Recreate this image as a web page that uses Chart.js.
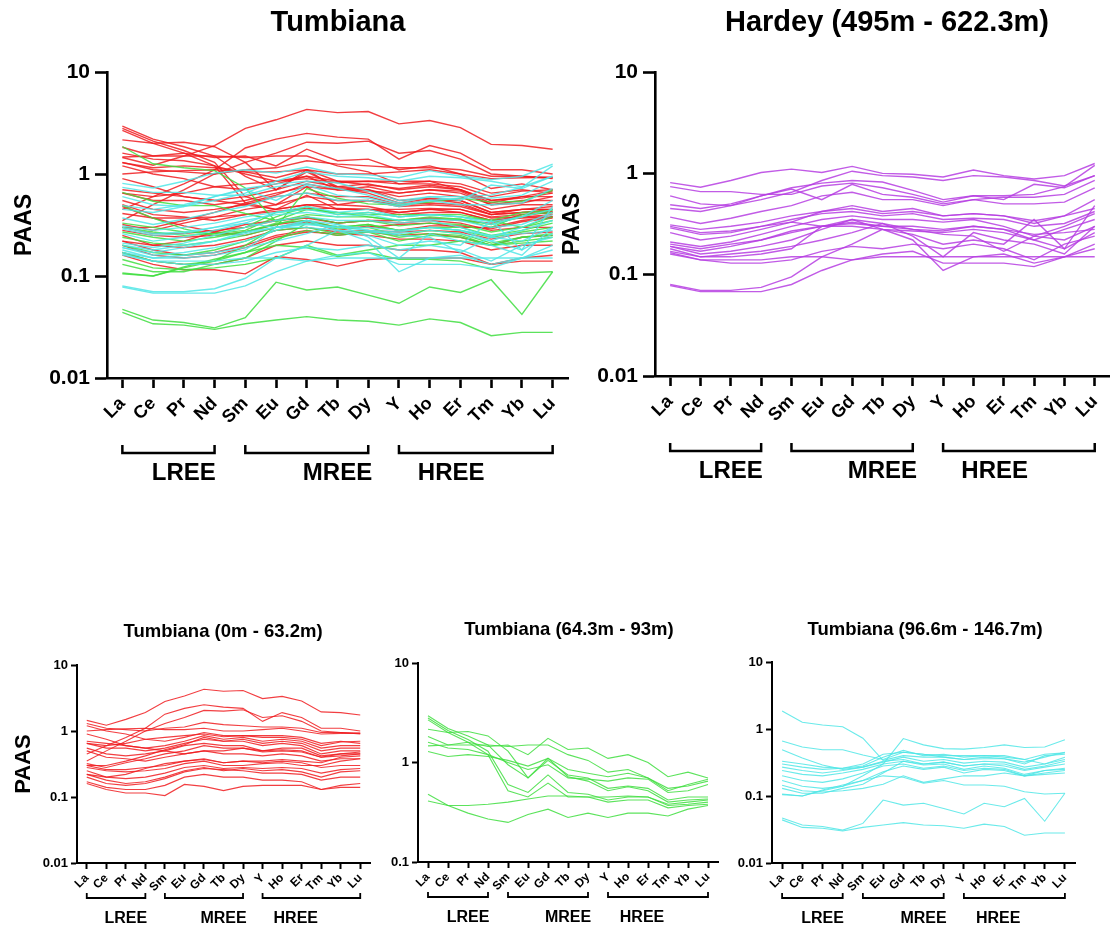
<!DOCTYPE html>
<html>
<head>
<meta charset="utf-8">
<script src="https://cdn.jsdelivr.net/npm/chart.js@4.4.1/dist/chart.umd.min.js"></script>
<style>
  html, body { margin: 0; padding: 0; background: #fff; }
  body { width: 1115px; height: 937px; position: relative; overflow: hidden; }
  canvas { position: absolute; }
</style>
</head>
<body>
<canvas id="panelAll" style="left:0px;top:0px" width="575" height="500"></canvas>
<canvas id="panelHardey" style="left:545px;top:0px" width="570" height="500"></canvas>
<canvas id="panelLow" style="left:0px;top:600px" width="380" height="337"></canvas>
<canvas id="panelMid" style="left:380px;top:600px" width="360" height="337"></canvas>
<canvas id="panelHigh" style="left:730px;top:600px" width="385" height="337"></canvas>
<script>
// ═══════════════════════════════════════════════════════
// REE spider plots – PAAS normalised, log scale
// ═══════════════════════════════════════════════════════

const FONT = '"Liberation Sans", Arial, Helvetica, sans-serif';

const elements = ['La', 'Ce', 'Pr', 'Nd', 'Sm', 'Eu', 'Gd', 'Tb', 'Dy', 'Y', 'Ho', 'Er', 'Tm', 'Yb', 'Lu'];
const groupNames = ['LREE', 'MREE', 'HREE'];
const groupFrom = ['La', 'Sm', 'Y'];
const groupTo = ['Nd', 'Dy', 'Lu'];
const groupLabelAt = [2, 7, 10.7];

const ticksWide = [10, 1, 0.1, 0.01];
const ticksNarrow = [10, 1, 0.1];

// Tumbiana 0m - 63.2m
const redSamples = [
  [1.45, 1.22, 1.5, 1.9, 2.8, 3.4, 4.3, 4.0, 4.1, 3.1, 3.35, 2.85, 1.95, 1.9, 1.75],
  [0.45, 0.6, 0.8, 1.1, 1.8, 2.2, 2.5, 2.3, 2.2, 1.4, 1.9, 1.6, 1.1, 1.1, 1.0],
  [0.35, 0.5, 0.7, 1.0, 1.3, 1.6, 2.05, 2.0, 2.1, 1.6, 1.7, 1.4, 1.0, 0.95, 0.9],
  [1.3, 1.1, 1.05, 1.0, 1.1, 1.15, 1.35, 1.25, 1.2, 1.15, 1.15, 1.1, 0.95, 0.95, 0.92],
  [1.2, 1.0, 0.9, 0.75, 0.7, 0.8, 0.95, 0.85, 0.85, 0.85, 0.85, 0.8, 0.65, 0.7, 0.65],
  [0.7, 0.65, 0.6, 0.55, 0.6, 0.7, 0.85, 0.75, 0.8, 0.7, 0.75, 0.7, 0.55, 0.6, 0.6],
  [0.65, 0.55, 0.55, 0.5, 0.55, 0.65, 0.75, 0.7, 0.7, 0.6, 0.65, 0.6, 0.45, 0.5, 0.5],
  [0.55, 0.45, 0.42, 0.45, 0.5, 0.6, 0.65, 0.6, 0.6, 0.5, 0.55, 0.55, 0.42, 0.45, 0.45],
  [0.3, 0.3, 0.35, 0.42, 0.52, 0.62, 0.8, 0.7, 0.75, 0.65, 0.7, 0.65, 0.5, 0.55, 0.55],
  [0.32, 0.28, 0.33, 0.38, 0.45, 0.5, 0.6, 0.55, 0.55, 0.48, 0.5, 0.48, 0.4, 0.42, 0.45],
  [0.5, 0.4, 0.38, 0.35, 0.4, 0.45, 0.5, 0.45, 0.45, 0.42, 0.45, 0.42, 0.35, 0.38, 0.38],
  [0.3, 0.26, 0.26, 0.28, 0.3, 0.35, 0.37, 0.33, 0.35, 0.33, 0.35, 0.33, 0.28, 0.3, 0.3],
  [0.28, 0.25, 0.24, 0.25, 0.27, 0.32, 0.35, 0.3, 0.3, 0.32, 0.33, 0.3, 0.3, 0.35, 0.38],
  [0.25, 0.2, 0.19, 0.2, 0.23, 0.28, 0.3, 0.27, 0.28, 0.27, 0.28, 0.27, 0.23, 0.26, 0.27],
  [0.22, 0.18, 0.16, 0.17, 0.2, 0.25, 0.28, 0.25, 0.27, 0.25, 0.26, 0.24, 0.2, 0.24, 0.25],
  [0.2, 0.16, 0.15, 0.16, 0.19, 0.24, 0.27, 0.26, 0.25, 0.23, 0.23, 0.22, 0.18, 0.2, 0.2],
  [0.17, 0.14, 0.13, 0.13, 0.15, 0.2, 0.22, 0.2, 0.2, 0.18, 0.18, 0.17, 0.13, 0.15, 0.16],
  [0.16, 0.13, 0.115, 0.115, 0.105, 0.155, 0.145, 0.125, 0.145, 0.15, 0.15, 0.15, 0.13, 0.14, 0.14],
  [0.9, 0.75, 0.6, 0.55, 0.5, 0.45, 0.5, 0.5, 0.55, 0.5, 0.52, 0.5, 0.4, 0.45, 0.48],
  [0.65, 0.6, 0.65, 0.75, 0.8, 0.85, 0.9, 0.82, 0.85, 0.8, 0.8, 0.75, 0.6, 0.68, 0.7],
  [1.0, 1.05, 1.08, 1.1, 1.05, 1.05, 1.1, 1.0, 1.0, 1.05, 1.1, 1.0, 0.9, 0.92, 0.93],
  [0.22, 0.2, 0.22, 0.27, 0.32, 0.35, 0.38, 0.33, 0.35, 0.35, 0.37, 0.35, 0.33, 0.4, 0.42]
];

// Tumbiana 64.3m - 93m
const greenSamples = [
  [2.95, 2.2, 1.85, 1.5, 0.95, 0.7, 1.05, 0.75, 0.7, 0.55, 0.58, 0.55, 0.42, 0.45, 0.45],
  [2.8, 2.1, 1.7, 1.3, 0.6, 0.5, 0.75, 0.5, 0.48, 0.42, 0.45, 0.45, 0.37, 0.38, 0.4],
  [2.68, 2.0, 1.6, 1.2, 0.52, 0.45, 0.62, 0.45, 0.45, 0.4, 0.42, 0.42, 0.35, 0.37, 0.38],
  [2.16, 2.0, 2.05, 1.85, 1.3, 0.7, 1.1, 0.72, 0.65, 0.52, 0.57, 0.52, 0.4, 0.42, 0.43],
  [1.83, 1.5, 1.6, 1.45, 1.5, 1.2, 1.75, 1.35, 1.4, 1.1, 1.2, 1.0, 0.72, 0.8, 0.7],
  [1.47, 1.5, 1.5, 1.5, 1.45, 1.5, 1.5, 1.2, 1.05, 0.8, 0.85, 0.7, 0.52, 0.6, 0.68],
  [1.29, 1.15, 1.2, 1.15, 1.05, 0.92, 1.1, 0.85, 0.78, 0.72, 0.78, 0.7, 0.55, 0.58, 0.65],
  [1.6, 1.4, 1.35, 1.2, 1.0, 0.85, 0.95, 0.7, 0.68, 0.65, 0.7, 0.68, 0.5, 0.52, 0.6],
  [0.48, 0.37, 0.31, 0.27, 0.25, 0.3, 0.34, 0.28, 0.31, 0.28, 0.31, 0.31, 0.29, 0.34, 0.37],
  [0.41, 0.37, 0.37, 0.38, 0.4, 0.43, 0.46, 0.46, 0.45, 0.45, 0.46, 0.45, 0.38, 0.4, 0.42]
];

// Tumbiana 96.6m - 146.7m
const cyanSamples = [
  [1.86, 1.26, 1.15, 1.08, 0.73, 0.34, 0.4, 0.38, 0.38, 0.35, 0.36, 0.36, 0.32, 0.38, 0.45],
  [0.66, 0.54, 0.49, 0.49, 0.41, 0.35, 0.45, 0.42, 0.4, 0.4, 0.4, 0.38, 0.35, 0.42, 0.44],
  [0.49, 0.37, 0.29, 0.25, 0.27, 0.32, 0.38, 0.33, 0.35, 0.31, 0.33, 0.32, 0.27, 0.3, 0.35],
  [0.105, 0.1, 0.12, 0.14, 0.2, 0.3, 0.72, 0.58, 0.51, 0.5, 0.53, 0.58, 0.53, 0.54, 0.69],
  [0.33, 0.3, 0.27, 0.26, 0.28, 0.38, 0.48, 0.4, 0.42, 0.38, 0.4, 0.4, 0.35, 0.3, 0.38],
  [0.3, 0.27, 0.25, 0.26, 0.3, 0.42, 0.45, 0.42, 0.38, 0.35, 0.38, 0.36, 0.3, 0.4, 0.42],
  [0.27, 0.24, 0.22, 0.24, 0.27, 0.33, 0.35, 0.3, 0.32, 0.28, 0.3, 0.28, 0.24, 0.27, 0.3],
  [0.24, 0.21, 0.2, 0.22, 0.25, 0.3, 0.33, 0.29, 0.3, 0.25, 0.28, 0.26, 0.21, 0.24, 0.26],
  [0.2, 0.17, 0.16, 0.18, 0.22, 0.28, 0.3, 0.26, 0.28, 0.24, 0.26, 0.25, 0.2, 0.22, 0.24],
  [0.17, 0.14, 0.13, 0.14, 0.17, 0.23, 0.28, 0.25, 0.27, 0.22, 0.25, 0.24, 0.2, 0.21, 0.22],
  [0.145, 0.12, 0.115, 0.12, 0.13, 0.15, 0.2, 0.16, 0.18, 0.2, 0.2, 0.22, 0.2, 0.24, 0.25],
  [0.13, 0.11, 0.11, 0.13, 0.15, 0.22, 0.33, 0.3, 0.32, 0.28, 0.3, 0.3, 0.25, 0.28, 0.33],
  [0.107, 0.1, 0.123, 0.146, 0.17, 0.2, 0.19, 0.155, 0.17, 0.146, 0.146, 0.14, 0.116, 0.107, 0.11],
  [0.047, 0.037, 0.035, 0.031, 0.039, 0.087, 0.073, 0.078, 0.065, 0.054, 0.078, 0.069, 0.092, 0.042, 0.11],
  [0.044, 0.034, 0.033, 0.03, 0.034, 0.037, 0.04, 0.037, 0.036, 0.033, 0.038, 0.035, 0.026, 0.028, 0.028]
];

// Hardey 495m - 622.3m
const hardeySamples = [
  [0.81, 0.73, 0.85, 1.02, 1.1, 1.02, 1.17, 1.0, 0.98, 0.92, 1.08, 0.95, 0.88, 0.95, 1.25],
  [0.74, 0.66, 0.66, 0.62, 0.62, 0.75, 0.8, 0.72, 0.62, 0.52, 0.6, 0.6, 0.62, 0.74, 1.2],
  [0.6, 0.5, 0.48, 0.55, 0.65, 0.85, 1.05, 0.95, 0.92, 0.85, 0.95, 0.92, 0.85, 0.75, 0.95],
  [0.49, 0.45, 0.5, 0.6, 0.7, 0.55, 0.78, 0.62, 0.58, 0.5, 0.55, 0.58, 0.58, 0.62, 0.85],
  [0.45, 0.42, 0.48, 0.6, 0.72, 0.8, 0.85, 0.82, 0.68, 0.55, 0.6, 0.55, 0.78, 0.72, 0.95],
  [0.37, 0.32, 0.36, 0.42, 0.48, 0.6, 0.65, 0.55, 0.55, 0.48, 0.55, 0.5, 0.5, 0.52, 0.72],
  [0.31, 0.28, 0.3, 0.33, 0.38, 0.42, 0.45, 0.4, 0.42, 0.38, 0.4, 0.38, 0.34, 0.38, 0.55],
  [0.29, 0.25, 0.26, 0.3, 0.35, 0.4, 0.42, 0.38, 0.4, 0.35, 0.36, 0.35, 0.3, 0.32, 0.42],
  [0.26, 0.22, 0.24, 0.28, 0.33, 0.42, 0.48, 0.42, 0.45, 0.38, 0.4, 0.38, 0.32, 0.38, 0.45],
  [0.21, 0.19, 0.21, 0.25, 0.3, 0.35, 0.38, 0.35, 0.35, 0.33, 0.35, 0.3, 0.24, 0.3, 0.4],
  [0.2, 0.18, 0.2, 0.22, 0.26, 0.3, 0.33, 0.3, 0.3, 0.28, 0.3, 0.28, 0.25, 0.26, 0.28],
  [0.19, 0.16, 0.17, 0.19, 0.22, 0.28, 0.35, 0.32, 0.28, 0.27, 0.3, 0.28, 0.22, 0.28, 0.35],
  [0.18, 0.15, 0.16, 0.17, 0.19, 0.22, 0.26, 0.32, 0.24, 0.15, 0.26, 0.22, 0.2, 0.16, 0.3],
  [0.17, 0.15, 0.15, 0.16, 0.18, 0.3, 0.35, 0.28, 0.25, 0.2, 0.22, 0.2, 0.35, 0.18, 0.26],
  [0.165, 0.14, 0.13, 0.13, 0.14, 0.17, 0.19, 0.18, 0.2, 0.18, 0.2, 0.18, 0.14, 0.2, 0.24],
  [0.16, 0.14, 0.14, 0.14, 0.15, 0.15, 0.14, 0.15, 0.15, 0.15, 0.15, 0.15, 0.15, 0.15, 0.15],
  [0.08, 0.07, 0.07, 0.075, 0.095, 0.15, 0.2, 0.28, 0.22, 0.11, 0.15, 0.16, 0.13, 0.15, 0.2],
  [0.078, 0.068, 0.068, 0.068, 0.08, 0.11, 0.14, 0.16, 0.17, 0.13, 0.13, 0.13, 0.12, 0.15, 0.18],
  [0.3, 0.26, 0.27, 0.3, 0.33, 0.3, 0.3, 0.28, 0.27, 0.26, 0.28, 0.26, 0.22, 0.18, 0.48],
  [0.19, 0.17, 0.19, 0.22, 0.27, 0.3, 0.32, 0.3, 0.28, 0.25, 0.24, 0.17, 0.24, 0.22, 0.3]
];

const RED = 'rgba(240,28,32,0.85)';
const GREEN = 'rgba(64,222,64,0.85)';
const CYAN = 'rgba(80,230,230,0.85)';
const PURPLE = 'rgba(182,62,226,0.85)';

// ─────────────────────────────────────────────────────
// titles, brackets and group names under the x axis
// ─────────────────────────────────────────────────────
const decorPlugin = {
  id: 'decor',
  afterDraw(chart, args, o) {
    const ctx = chart.ctx;
    const xs = chart.scales.x;
    const area = chart.chartArea;
    ctx.save();
    ctx.fillStyle = '#000';
    ctx.strokeStyle = '#000';
    ctx.textAlign = 'center';
    ctx.textBaseline = 'middle';
    ctx.font = `bold ${o.titleSize}px ${FONT}`;
    ctx.fillText(o.title, o.titleX, o.titleY);

    const yb = area.bottom + o.bracketY;
    ctx.lineWidth = o.bracketW;
    ctx.font = `bold ${o.groupSize}px ${FONT}`;
    groupNames.forEach((name, i) => {
      const x0 = xs.getPixelForValue(elements.indexOf(groupFrom[i]));
      const x1 = xs.getPixelForValue(elements.indexOf(groupTo[i]));
      ctx.beginPath();
      ctx.moveTo(x0, yb - o.bracketH);
      ctx.lineTo(x0, yb);
      ctx.lineTo(x1, yb);
      ctx.lineTo(x1, yb - o.bracketH);
      ctx.stroke();
      ctx.fillText(name, xs.getPixelForValue(groupLabelAt[i]), area.bottom + o.groupY);
    });
    ctx.restore();
  }
};

function makePanel(id, cfg) {
  const canvas = document.getElementById(id);
  const W = canvas.width, H = canvas.height;
  const datasets = [];
  cfg.sets.forEach(set => {
    set.rows.forEach(row => {
      datasets.push({
        data: row,
        borderColor: set.color,
        borderWidth: cfg.lineW,
        pointRadius: 0,
        fill: false,
        tension: 0
      });
    });
  });

  const axisGrid = (len) => ({
    display: true,
    drawOnChartArea: false,
    drawTicks: true,
    tickLength: len,
    tickColor: '#000',
    tickWidth: cfg.axisW
  });
  const axisBorder = { display: true, color: '#000', width: cfg.axisW };

  return new Chart(canvas.getContext('2d'), {
    type: 'line',
    data: { labels: elements, datasets },
    options: {
      responsive: false,
      animation: false,
      devicePixelRatio: 1,
      layout: { padding: { left: 0, top: cfg.area.top, right: W - cfg.area.right, bottom: 0 } },
      scales: {
        x: {
          type: 'category',
          offset: true,
          grid: axisGrid(cfg.xTickLen),
          border: axisBorder,
          ticks: {
            autoSkip: false,
            minRotation: 45,
            maxRotation: 45,
            padding: cfg.xPad,
            color: '#000',
            font: { family: FONT, size: cfg.xFont, weight: 'bold' }
          },
          afterFit: s => { s.height = H - cfg.area.bottom; }
        },
        y: {
          type: 'logarithmic',
          min: cfg.yTicks[cfg.yTicks.length - 1],
          max: cfg.yTicks[0],
          grid: axisGrid(cfg.yTickLen),
          border: axisBorder,
          ticks: {
            padding: cfg.yPad,
            color: '#000',
            font: { family: FONT, size: cfg.yFont, weight: 'bold' },
            callback: v => String(v)
          },
          afterBuildTicks: s => { s.ticks = cfg.yTicks.map(v => ({ value: v })); },
          afterFit: s => { s.width = cfg.area.left; },
          title: cfg.yTitle
            ? { display: true, text: 'PAAS', color: '#000',
                font: { family: FONT, size: cfg.yTitleSize, weight: 'bold' },
                padding: { top: cfg.yTitlePad, bottom: 0 } }
            : { display: false }
        }
      },
      plugins: {
        legend: { display: false },
        tooltip: { enabled: false },
        decor: cfg.decor
      }
    },
    plugins: [decorPlugin]
  });
}

const bigStyle = {
  lineW: 1.4, axisW: 2.6, xTickLen: 10, yTickLen: 12, xPad: 5, yPad: 5,
  xFont: 18, yFont: 21, yTitleSize: 23, yTicks: ticksWide
};
const smallStyle = {
  lineW: 1.1, axisW: 2, xTickLen: 6, yTickLen: 6, xPad: 2, yPad: 3,
  xFont: 12, yFont: 13, yTitleSize: 22, yTicks: ticksWide
};
const bigDecor = { titleSize: 29, titleY: 23, bracketY: 75, bracketH: 8, bracketW: 2.5, groupY: 95, groupSize: 24 };
const smallDecor = { titleSize: 18.5, titleY: 32, bracketY: 35, bracketH: 5, bracketW: 1.8, groupY: 56, groupSize: 16 };

makePanel('panelAll', Object.assign({}, bigStyle, {
  area: { left: 107, top: 72, bottom: 378, right: 568 },
  yTitle: true, yTitlePad: 11,
  sets: [
    { rows: hardeySamples, color: CYAN },
    { rows: cyanSamples, color: GREEN },
    { rows: redSamples.concat(greenSamples), color: RED }
  ],
  decor: Object.assign({}, bigDecor, { title: 'Tumbiana', titleX: 338 })
}));

makePanel('panelHardey', Object.assign({}, bigStyle, {
  area: { left: 110, top: 72, bottom: 376, right: 570 },
  yTitle: true, yTitlePad: 14,
  sets: [{ rows: hardeySamples, color: PURPLE }],
  decor: Object.assign({}, bigDecor, { title: 'Hardey (495m - 622.3m)', titleX: 342 })
}));

makePanel('panelLow', Object.assign({}, smallStyle, {
  area: { left: 77, top: 65, bottom: 263, right: 370 },
  yTitle: true, yTitlePad: 11,
  sets: [{ rows: redSamples, color: RED }],
  decor: Object.assign({}, smallDecor, { title: 'Tumbiana (0m - 63.2m)', titleX: 223 })
}));

makePanel('panelMid', Object.assign({}, smallStyle, {
  area: { left: 38, top: 63, bottom: 262, right: 338 },
  yTitle: false, yTicks: ticksNarrow,
  sets: [{ rows: greenSamples, color: GREEN }],
  decor: Object.assign({}, smallDecor, { title: 'Tumbiana (64.3m - 93m)', titleX: 189, titleY: 30 })
}));

makePanel('panelHigh', Object.assign({}, smallStyle, {
  area: { left: 42, top: 62, bottom: 263, right: 345 },
  yTitle: false,
  sets: [{ rows: cyanSamples, color: CYAN }],
  decor: Object.assign({}, smallDecor, { title: 'Tumbiana (96.6m - 146.7m)', titleX: 195, titleY: 30 })
}));
</script>
</body>
</html>
